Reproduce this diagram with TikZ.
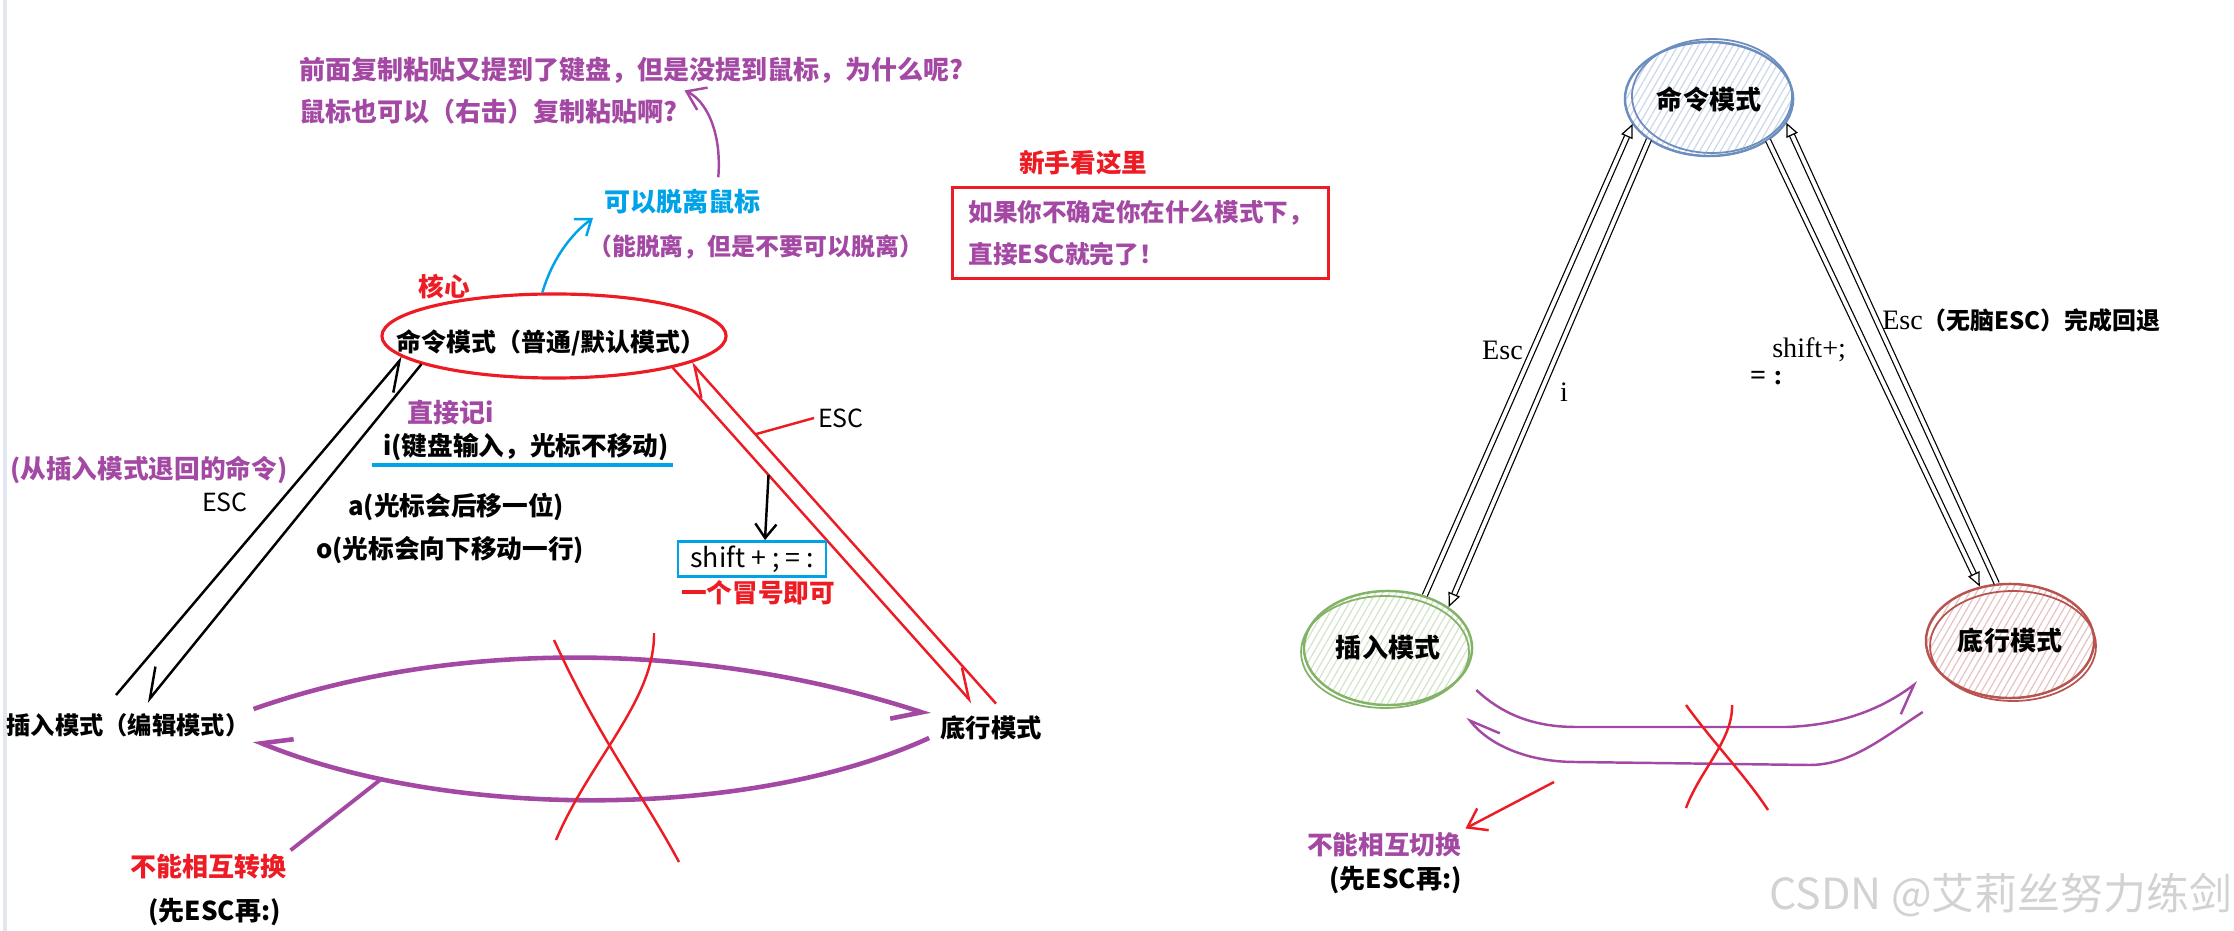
\documentclass[tikz,border=0pt]{standalone}
\usepackage{fontspec}
\setmainfont{Noto Sans CJK SC}
\newfontfamily\latinserif{Liberation Serif}
\usetikzlibrary{arrows.meta, positioning, calc, shapes.geometric, patterns.meta}
\definecolor{pRed}{RGB}{237,28,36}
\definecolor{pBlue}{RGB}{0,162,232}
\definecolor{pPurple}{RGB}{163,73,164}
\definecolor{ioBlue}{RGB}{108,142,191}
\definecolor{ioGreen}{RGB}{130,179,102}
\definecolor{ioRed}{RGB}{184,84,80}
\definecolor{edgeGray}{RGB}{225,230,240}

\begin{document}
\begin{tikzpicture}[x=0.01cm, y=-0.01cm,
  txt/.style={inner sep=1pt, font=\bfseries\fontsize{#1}{#1}\selectfont},
  txt/.default=7.3pt,
  plain/.style={inner sep=1pt, font=\fontsize{#1}{#1}\selectfont},
  plain/.default=7.1pt,
  latin/.style={inner sep=1pt, font=\latinserif\fontsize{8pt}{8pt}\selectfont},
  mode/.style={ellipse, draw=#1, line width=0.7pt, minimum width=1.68cm, minimum height=1.14cm, inner sep=0pt,
    pattern={Lines[angle=60, distance=1.7pt, line width=0.35pt]}, pattern color=#1!35, txt=7.4pt},
  inkblack/.style={draw=black, line width=0.7pt},
  inkred/.style={draw=pRed, line width=0.7pt},
  inkpurple/.style={draw=pPurple, line width=1.3pt},
  halfhead/.style={-{Straight Barb[harpoon, swap, length=8pt, width=9pt]}},
  halfheadswap/.style={-{Straight Barb[harpoon, length=8pt, width=9pt]}},
  thinpair/.style={double, double distance=1.1pt, line width=0.35pt, -{Triangle[open, length=4pt, width=3.5pt]}},
]
\useasboundingbox (0,0) rectangle (2234,931);
\draw[edgeGray, line width=1.2pt] (5,0) -- (5,931);

% left: the three modes
\node[txt=7.1pt] (cmdLtext) at (551,343) {命令模式（普通/默认模式）};
\node[ellipse, draw=pRed, line width=0.9pt, minimum width=3.44cm, minimum height=0.84cm, inner sep=0pt] (cmdL) at (554,336) {};
\node[txt=6.9pt] (insL) at (128,725) {插入模式（编辑模式）};
\node[txt=7.2pt] (botL) at (991,728) {底行模式};

% insert <-> command
\draw[inkblack, halfhead] ($(insL.north)+(-12,-14)$) -- (cmdL.188);
\draw[inkblack, halfhead] (cmdL.192) -- ($(insL.north)+(19,-7)$);

% command <-> bottom line
\draw[inkred, halfheadswap] (cmdL.345) -- coordinate[pos=.32] (colonFrom) ($(botL.north)+(-19,-9)$);
\draw[inkred, halfheadswap] ($(botL.north)+(5,-8)$) -- coordinate[pos=.79] (escFrom) (cmdL.349);

% insert <-> bottom line (not allowed)
\draw[inkpurple, halfhead] ($(insL.east)+(0,-16)$) .. controls (450,640) and (700,640) .. ($(botL.west)+(-6,-13)$);
\draw[inkpurple, halfhead] ($(botL.west)+(-7,10)$) .. controls (750,820) and (450,820) .. coordinate[pos=.8] (noConvFrom) ($(insL.east)+(0,15)$);
\draw[pRed, line width=0.7pt] (554,640) .. controls (600,740) and (640,790) .. (679,862);
\draw[pRed, line width=0.7pt] (654,633) .. controls (655,700) and (590,760) .. (556,840);

% notes on the left
\node[txt=7.4pt, text=pPurple, anchor=west] (why1) at (295,70) {前面复制粘贴又提到了键盘，但是没提到鼠标，为什么呢?};
\node[txt=7.4pt, text=pPurple, anchor=west] (why2) at (295,112) {鼠标也可以（右击）复制粘贴啊?};
\node[txt=7.4pt, text=pBlue, anchor=west] (noMouse) at (600,202) {可以脱离鼠标};
\node[txt=6.8pt, text=pPurple, anchor=west] (canLeave) at (584,247) {（能脱离，但是不要可以脱离）};
\node[txt=7.3pt, text=pRed] (core) at (444,287) {核心};
\node[txt=7.4pt, text=pPurple, anchor=west] (iDirect) at (403,413) {直接记i};
\node[txt, anchor=west] (iKey) at (379,447) {i(键盘输入，光标不移动)};
\node[txt=7.3pt, text=pPurple, anchor=west] (fromIns) at (6,470) {(从插入模式退回的命令)};
\node[plain] (escL) at (225,502) {ESC};
\node[txt, anchor=west] (aKey) at (344,507) {a(光标会后移一位)};
\node[txt, anchor=west] (oKey) at (312,550) {o(光标会向下移动一行)};
\node[plain, anchor=west] (escR) at (814,418) {ESC};
\node[plain=7.6pt, draw=pBlue, line width=0.8pt, minimum width=1.48cm, minimum height=0.35cm] (colonBox) at (752,559) {shift + ; = :};
\node[txt, text=pRed, anchor=west] (oneColon) at (677,593) {一个冒号即可};
\node[txt=7.4pt, text=pRed, anchor=west] (noConvert) at (126,867) {不能相互转换};
\node[txt=7.4pt, anchor=west] (escFirstL) at (144,912) {(先ESC再:)};

\draw[pBlue, line width=0.9pt] ($(iKey.south west)+(-7,0)$) -- (iKey.south east);
\draw[inkblack, -{Straight Barb[length=4pt, width=6pt]}] (colonFrom) -- ($(colonBox.north)+(13,0)$);
\draw[inkred] (escFrom) -- (escR.west);
\draw[pPurple, line width=1.1pt] (noConvFrom) -- (noConvert.north east);
\draw[pBlue, line width=0.7pt, -{Straight Barb[length=4pt, width=6pt]}] (cmdL.105) .. controls (552,260) and (570,235) .. ($(noMouse.west)+(-7,16)$);
\draw[pPurple, line width=0.7pt, -{Straight Barb[length=5pt, width=7pt]}] ($(noMouse.north)+(36,-8)$) .. controls (722,130) and (705,100) .. ($(why1.south)+(53,3)$);

% newbie box
\node[txt, text=pRed, anchor=west] (newbie) at (1015,163) {新手看这里};
\node[draw=pRed, line width=0.9pt, text=pPurple, font=\bfseries\fontsize{7pt}{12pt}\selectfont, align=left,
  anchor=north west, inner xsep=0.15cm, minimum width=3.76cm, minimum height=0.91cm] (noviceBox) at (951,186)
  {如果你不确定你在什么模式下，\\直接ESC就完了！};

% right: sketch version
\node[mode=ioBlue] (cmdR) at (1709,99) {命令模式};
\node[mode=ioGreen] (insR) at (1388,648) {插入模式};
\node[mode=ioRed] (botR) at (2010,641) {底行模式};
\draw[ioBlue, line width=0.5pt] ($(cmdR.center)+(3,-3)$) ellipse [x radius=80, y radius=57];
\draw[ioGreen, line width=0.5pt] ($(insR.center)+(-3,4)$) ellipse [x radius=84, y radius=56];
\draw[ioRed, line width=0.5pt] ($(botR.center)+(3,5)$) ellipse [x radius=83, y radius=55];

\draw[thinpair] (insR.55) -- (cmdR.198);
\draw[thinpair] (cmdR.214) -- (insR.34);
\draw[thinpair] (cmdR.325) -- (botR.119);
\draw[thinpair] (botR.103) -- (cmdR.343);

\node[latin, anchor=west] (escRt) at (1478,350) {Esc};
\node[latin] (iRt) at (1564,392) {i};
\node[latin, anchor=west] (shiftRt) at (1768,350) {shift+;};
\node[latin, font=\latinserif\bfseries\fontsize{8pt}{8pt}\selectfont, anchor=west] (eqRt) at (1746,378) {= :};
\node[inner sep=1pt, anchor=west] (escBack) at (1878,320)
  {{\latinserif\fontsize{8pt}{8pt}\selectfont Esc}{\bfseries\fontsize{6.8pt}{6.8pt}\selectfont （无脑ESC）完成回退}};

\draw[pPurple, line width=0.7pt, halfhead] ($(insR.east)+(3,42)$) .. controls (1500,712) and (1530,727) .. (1576,727)
  -- (1787,727) .. controls (1840,725) and (1880,710) .. ($(botR.west)+(-7,41)$);
\draw[pPurple, line width=0.7pt, halfhead] ($(botR.west)+(-2,71)$) .. controls (1880,740) and (1850,765) .. (1809,765)
  -- (1576,762) .. controls (1520,762) and (1485,740) .. ($(insR.east)+(-6,69)$);
\draw[pRed, line width=0.7pt] (1686,705) .. controls (1715,745) and (1745,775) .. (1768,810);
\draw[pRed, line width=0.7pt] (1732,705) .. controls (1733,740) and (1700,770) .. (1686,808);

\node[txt, text=pPurple, anchor=west] (noSwitch) at (1303,845) {不能相互切换};
\node[txt=7.4pt, anchor=west] (escFirstR) at (1325,880) {(先ESC再:)};
\coordinate (switchFrom) at (1554,782);
\draw[pRed, line width=0.7pt, -{Straight Barb[length=5pt, width=7pt]}] (switchFrom) -- (noSwitch.north east);

\node[plain=12.2pt, text=gray!35, anchor=west] (csdnTag) at (1765,895) {CSDN @艾莉丝努力练剑};
\end{tikzpicture}
\end{document}
